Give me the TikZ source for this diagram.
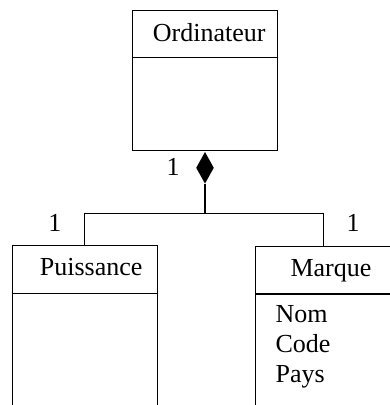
\documentclass[tikz,border=0pt]{standalone}
\usepackage{fontspec}
\setmainfont{Liberation Serif}
\newfontfamily\umlfont{Liberation Serif}
\usetikzlibrary{shapes.geometric}
\begin{document}
\begin{tikzpicture}[x=1pt, y=-1pt, line width=1.1pt,
  classbox/.style={draw, rectangle, inner sep=0pt, anchor=north west},
  label text/.style={font=\umlfont\fontsize{26}{30}\selectfont, inner sep=0pt, anchor=base west},
  mult/.style={font=\umlfont\fontsize{26}{30}\selectfont, inner sep=0pt, anchor=base},
  compo/.style={diamond, fill=black, inner sep=0pt, minimum width=18pt, minimum height=32pt}]
  \path[use as bounding box] (0,0) rectangle (390,405);
  \clip (0,0) rectangle (390,405);

  % class boxes
  \node[classbox, minimum width=145pt, minimum height=140pt] (ord) at (132.3,10) {};
  \node[classbox, minimum width=145pt, minimum height=220pt] (pu) at (11.7,245) {};
  \node[classbox, minimum width=136pt, minimum height=220pt] (ma) at (255,246) {};

  % header separators
  \draw (ord.west |- 0,57.3) -- (ord.east |- 0,57.3);
  \draw (pu.west |- 0,293.5) -- (pu.east |- 0,293.5);
  \draw (ma.west |- 0,294) -- (ma.east |- 0,294);

  % class names
  \node[label text] (tord) at (152.3,41) {Ordinateur};
  \node[label text] (tpu) at (39.3,275) {Puissance};
  \node[label text] (tma) at (290,276) {Marque};

  % attributes
  \node[label text] (anom) at (275,322) {Nom};
  \node[label text] (acode) at (275,352) {Code};
  \node[label text] (apays) at (275,382) {Pays};

  % composition
  \node[compo] (dia) at (205,167.8) {};
  \coordinate (bar) at (205,213.7);
  \draw (dia.south) -- (bar);
  \draw (pu.north) |- (bar) -| (ma.north);

  % multiplicities
  \node[mult] (m0) at (173,175) {1};
  \node[mult] (m1) at (55,231.5) {1};
  \node[mult] (m2) at (353,231) {1};
\end{tikzpicture}
\end{document}
